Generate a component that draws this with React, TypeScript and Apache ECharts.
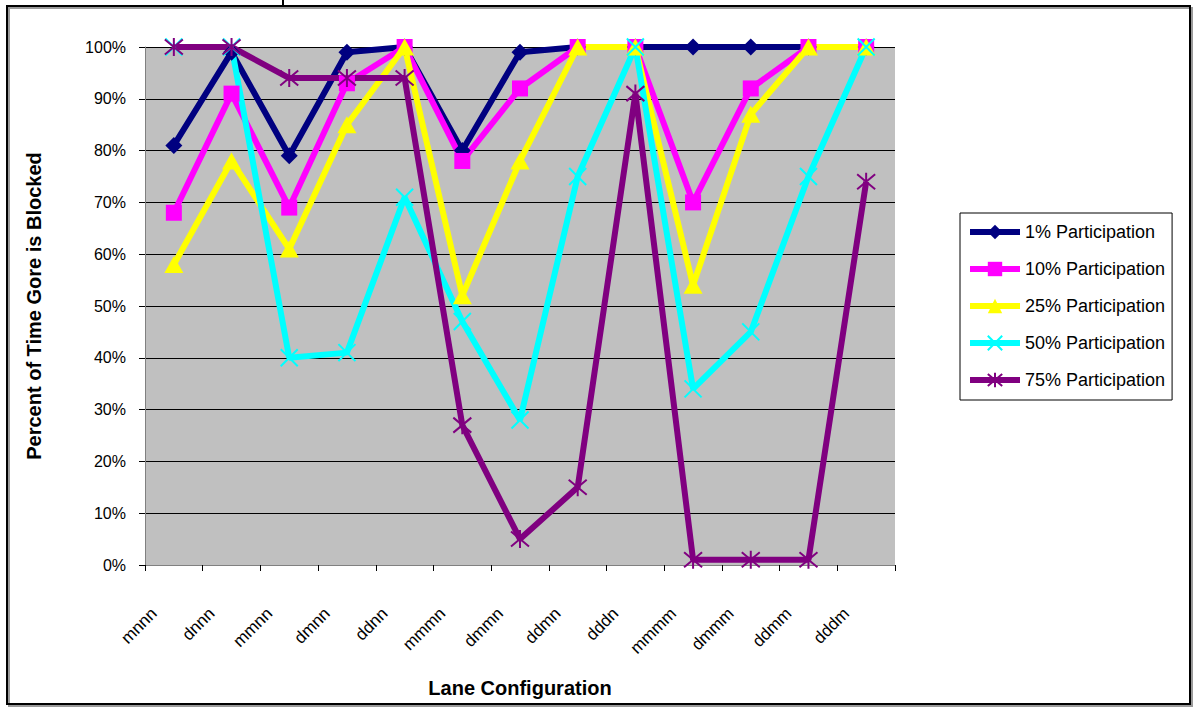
import React, { useEffect, useRef } from "react";
import * as echarts from "echarts";

// Lane configurations along the horizontal axis
const categories = [
  "mnnn", "dnnn", "mmnn", "dmnn", "ddnn", "mmmn", "dmmn",
  "ddmn", "dddn", "mmmm", "dmmm", "ddmm", "dddm",
];

// Percent of time the gore is blocked, per participation level
const p1 = [81, 99, 79, 99, 100, 80, 99, 100, 100, 100, 100, 100, 100];
const p10 = [68, 91, 69, 93, 100, 78, 92, 100, 100, 70, 92, 100, 100];
const p25 = [58, 78, 61, 85, 100, 52, 78, 100, 100, 54, 87, 100, 100];
const p50 = [100, 100, 40, 41, 71, 47, 28, 75, 100, 34, 45, 75, 100];
const p75 = [100, 100, 94, 94, 94, 27, 5, 15, 91, 1, 1, 1, 74];

const seriesNames = [
  "1% Participation",
  "10% Participation",
  "25% Participation",
  "50% Participation",
  "75% Participation",
];

const yTicks = { min: 0, max: 100, step: 10 };

const FONT = "'Liberation Sans', Arial, sans-serif";
const LINE_WIDTH = 6;

// Stroke-only marker shapes
const CROSS = "path://M0,0L10,10M10,0L0,10";
const STAR = "path://M0,0L10,10M10,0L0,10M5,-1L5,11";

export default function App() {
  const ref = useRef<HTMLDivElement>(null);

  useEffect(() => {
    if (!ref.current) return;
    const chart = echarts.init(ref.current, undefined, { renderer: "svg" });

    const line = (
      name: string,
      data: number[],
      color: string,
      symbol: string,
      symbolSize: number | number[],
      stroke: boolean
    ) => ({
      name,
      type: "line",
      data,
      symbol,
      symbolSize,
      showSymbol: true,
      color,
      lineStyle: { color, width: LINE_WIDTH },
      itemStyle: stroke
        ? { color: "rgba(0,0,0,0)", borderColor: color, borderWidth: 2 }
        : { color, borderWidth: 0 },
      emphasis: { disabled: true },
    });

    chart.setOption({
      animation: false,
      textStyle: { fontFamily: FONT },
      grid: {
        left: 145,
        right: 299,
        top: 47,
        bottom: 142,
        show: true,
        backgroundColor: "#C0C0C0",
        borderWidth: 0,
      },
      legend: {
        orient: "vertical",
        left: 960,
        top: 213,
        padding: [10, 7, 11, 7],
        itemWidth: 50,
        itemHeight: 18,
        itemGap: 19,
        backgroundColor: "#fff",
        borderColor: "#000",
        borderWidth: 1,
        lineStyle: { width: LINE_WIDTH },
        textStyle: { fontSize: 18, color: "#000", fontFamily: FONT },
        data: seriesNames,
      },
      xAxis: {
        type: "category",
        data: categories,
        boundaryGap: true,
        name: "Lane Configuration",
        nameLocation: "middle",
        nameGap: 113,
        nameTextStyle: { fontSize: 20, fontWeight: "bold", color: "#000", fontFamily: FONT },
        axisLine: { show: true, lineStyle: { color: "#808080", width: 1 } },
        axisTick: { show: true, length: 6, lineStyle: { color: "#000" } },
        axisLabel: {
          interval: 0,
          rotate: 45,
          fontSize: 17,
          color: "#000",
          margin: 26,
          padding: [0, 28, 0, 0],
          fontFamily: FONT,
        },
        splitLine: { show: false },
      },
      yAxis: {
        type: "value",
        min: yTicks.min,
        max: yTicks.max,
        interval: yTicks.step,
        name: "Percent of Time Gore is Blocked",
        nameLocation: "middle",
        nameGap: 101,
        nameTextStyle: { fontSize: 20, fontWeight: "bold", color: "#000", fontFamily: FONT },
        axisLine: { show: true, lineStyle: { color: "#808080", width: 1 } },
        axisTick: { show: true, length: 6, lineStyle: { color: "#000" } },
        axisLabel: {
          formatter: "{value}%",
          fontSize: 16,
          color: "#000",
          margin: 19,
          fontFamily: FONT,
        },
        splitLine: { show: true, lineStyle: { color: "#000", width: 1 } },
      },
      series: [
        line(seriesNames[0], p1, "#000080", "diamond", [17, 17], false),
        line(seriesNames[1], p10, "#FF00FF", "rect", [16, 16], false),
        line(seriesNames[2], p25, "#FFFF00", "triangle", [19, 17], false),
        line(seriesNames[3], p50, "#00FFFF", CROSS, [17, 17], true),
        line(seriesNames[4], p75, "#800080", STAR, [18, 18], true),
      ],
      graphic: [
        {
          type: "rect",
          shape: { x: 9, y: 8, width: 1183, height: 698 },
          style: { fill: "none", stroke: "#9a9a9a", lineWidth: 2 },
          silent: true,
          z: -2,
        },
        {
          type: "rect",
          shape: { x: 7, y: 6, width: 1183, height: 698 },
          style: { fill: "none", stroke: "#000", lineWidth: 2 },
          silent: true,
          z: -1,
        },
        {
          type: "line",
          shape: { x1: 283, y1: 0, x2: 283, y2: 6 },
          style: { stroke: "#000", lineWidth: 2 },
          silent: true,
        },
      ],
    });

    return () => chart.dispose();
  }, []);

  return (
    <div
      ref={ref}
      style={{ position: "fixed", left: 0, top: 0, width: 1194, height: 707, background: "#fff" }}
    />
  );
}
